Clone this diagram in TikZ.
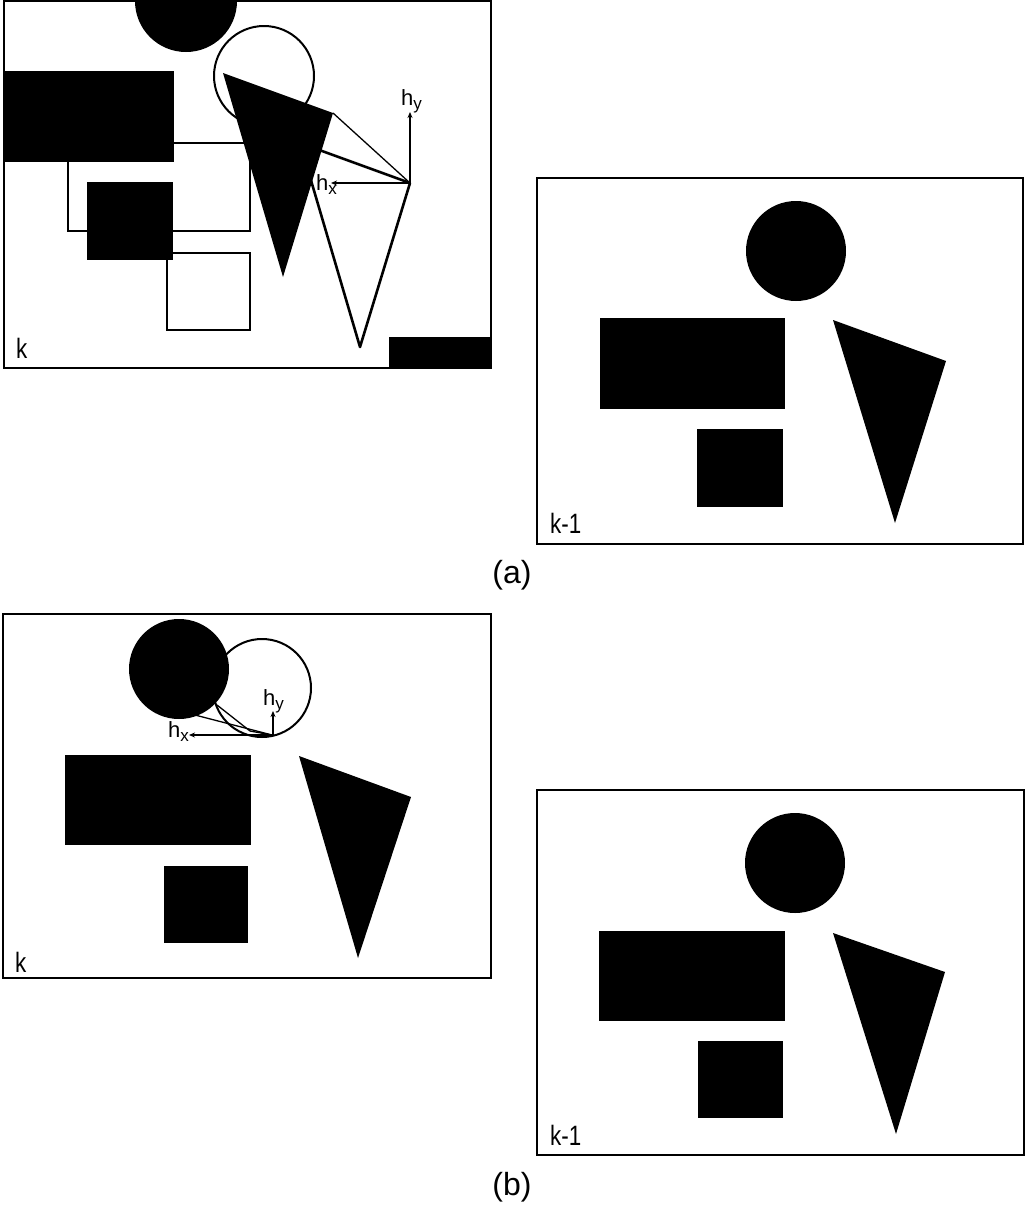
\documentclass[tikz,border=0pt]{standalone}
\usepackage{fontspec}
\setmainfont{Liberation Sans}
\usetikzlibrary{arrows.meta}
\newcommand{\hsub}[1]{h\raisebox{-0.4ex}{\fontsize{17}{17}\selectfont #1}}
\begin{document}
\begin{tikzpicture}[x=1pt,y=-1pt,
  frame/.style={draw=black,line width=2pt},
  blk/.style={fill=black},
  ghost/.style={draw=black,line width=2pt},
  thickghost/.style={draw=black,line width=2.6pt,line join=round},
  disp/.style={draw=black,line width=1.3pt},
  vec/.style={draw=black,line width=1.3pt,-{Stealth[length=6pt,width=5pt]}},
  lbl/.style={font=\fontsize{28}{28}\selectfont,inner sep=0pt,xscale=0.8},
  captext/.style={font=\fontsize{32}{32}\selectfont,inner sep=0pt},
  hl/.style={font=\fontsize{22}{22}\selectfont,inner sep=0pt}]
\useasboundingbox (0,0) rectangle (1026,1205);
\fill[white] (0,0) rectangle (1026,1205);

% ===================== (a) frame k =====================
\begin{scope}
  \clip (4,1) rectangle (491,368);
  % previous positions (outlines)
  \draw[ghost] (68,143) rectangle (250,231);
  \draw[ghost] (167,253) rectangle (250,330);
  \draw[ghost] (264,76) circle[radius=50pt];
  \draw[thickghost] (300,143) -- (410,183) -- (360,347) -- cycle;
  % current objects
  \fill[blk] (186,1) circle[radius=51pt];
  \fill[blk] (4,71) rectangle (174,162);
  \fill[blk] (87,182) rectangle (173,260);
  \fill[blk] (223,73) -- (333,113) -- (283,277) -- cycle;
  \fill[blk] (389,337) rectangle (491,368);
  % displacement
  \coordinate (ta) at (333,113);
  \coordinate (pa) at (410,183);
  \coordinate (hxa) at (331,183);
  \coordinate (hya) at (410,112);
  \draw[disp] (ta) -- (pa);
  \draw[vec] (pa) -- (hxa);
  \draw[vec] (pa) -- (hya);
\end{scope}
\draw[frame] (4,1) rectangle (491,368);
\node[hl,anchor=base west] (hya-l) at (401,105) {\hsub{y}};
\node[hl,anchor=base west] (hxa-l) at (316,190) {\hsub{x}};
\node[lbl,anchor=base west] (ka) at (16,358) {k};

% ===================== (a) frame k-1 =====================
\draw[frame] (537,178) rectangle (1023,544);
\fill[blk] (796,251) circle[radius=50pt];
\fill[blk] (600,318) rectangle (785,409);
\fill[blk] (697,429) rectangle (783,507);
\fill[blk] (833,320) -- (946,361) -- (895,523) -- cycle;
\node[lbl,anchor=base west] (ka1) at (550,533) {k-1};

\node[captext,anchor=base] (capa) at (512,583) {(a)};

% ===================== (b) frame k =====================
\begin{scope}
  \clip (3,614) rectangle (491,978);
  \draw[ghost] (262,688) circle[radius=49pt];
  \fill[blk] (179,669) circle[radius=50pt];
  \fill[blk] (65,755) rectangle (251,845);
  \fill[blk] (164,866) rectangle (248,943);
  \fill[blk] (299,756) -- (411,797) -- (358,958) -- cycle;
  \coordinate (pb) at (272,735);
  \coordinate (c1) at (195,715);
  \coordinate (c2) at (217,705);
  \coordinate (hxb) at (189,735);
  \coordinate (hyb) at (273,711);
  \draw[disp] (c1) -- (pb);
  \draw[disp] (c2) -- (250,731) -- (pb);
  \draw[vec] (pb) -- (hxb);
  \draw[vec] (273,735) -- (hyb);
\end{scope}
\draw[frame] (3,614) rectangle (491,978);
\node[hl,anchor=base west] (hyb-l) at (263,705) {\hsub{y}};
\node[hl,anchor=base west] (hxb-l) at (168,737) {\hsub{x}};
\node[lbl,anchor=base west] (kb) at (15,972) {k};

% ===================== (b) frame k-1 =====================
\draw[frame] (537,790) rectangle (1024,1155);
\fill[blk] (795,863) circle[radius=50pt];
\fill[blk] (599,931) rectangle (785,1021);
\fill[blk] (698,1041) rectangle (783,1118);
\fill[blk] (833,933) -- (945,972) -- (896,1134) -- cycle;
\node[lbl,anchor=base west] (kb1) at (550,1145) {k-1};

\node[captext,anchor=base] (capb) at (512,1195) {(b)};
\end{tikzpicture}
\end{document}
